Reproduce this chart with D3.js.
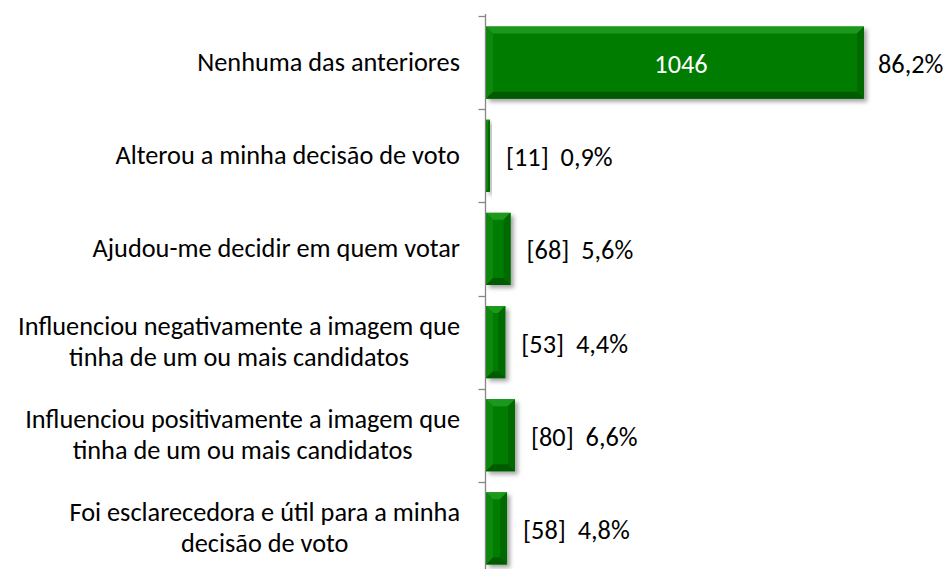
<!DOCTYPE html>
<html>
<head>
<meta charset="utf-8">
<script src="https://cdn.jsdelivr.net/npm/d3@7"></script>
<style>
  html, body { margin: 0; padding: 0; background: #fff; }
  svg { display: block; }
  text { font-family: "Carlito", "Open Sans", sans-serif; fill: #000; }
</style>
</head>
<body>
<svg id="chart" width="948" height="569"></svg>
<script>
// ---- data ----
const categories = [
  "Nenhuma das anteriores",
  "Alterou a minha decisão de voto",
  "Ajudou-me decidir em quem votar",
  "Influenciou negativamente a imagem que\ntinha de um ou mais candidatos",
  "Influenciou positivamente a imagem que\ntinha de um ou mais candidatos",
  "Foi esclarecedora e útil para a minha\ndecisão de voto"
];
const counts = [1046, 11, 68, 53, 80, 58];
const percents = [86.2, 0.9, 5.6, 4.4, 6.6, 4.8];
const percentLabels = ["86,2%", "0,9%", "5,6%", "4,4%", "6,6%", "4,8%"];

// ---- layout ----
const svg = d3.select("#chart");
const axisX = 486;
const fontSize = 26.3;

const x = d3.scaleLinear().domain([0, 100]).range([axisX, 924.5]);
const y = d3.scaleBand().domain(categories).range([16, 575]).paddingInner(0.226).paddingOuter(0.113);
const yOuter = d3.scaleBand().domain(categories).range([16, 575]).padding(0);

const defs = svg.append("defs");
const f = defs.append("filter").attr("id", "shadow").attr("x", "-20%").attr("y", "-20%").attr("width", "160%").attr("height", "160%");
f.append("feDropShadow").attr("dx", 3).attr("dy", 3).attr("stdDeviation", 2.2)
  .attr("flood-color", "#000").attr("flood-opacity", 0.35);

// axis
const axis = d3.axisLeft(yOuter).tickSize(7).tickFormat("");
const axisG = svg.append("g").attr("transform", `translate(${axisX - 0.5},0)`).call(axis);
axisG.select(".domain").attr("stroke", "#868686").attr("stroke-width", 1.3).attr("d", "M0,14V575");
axisG.selectAll(".tick").remove();
const bounds = categories.map(c => yOuter(c)).concat([575]);
axisG.selectAll("line.b").data(bounds).join("line").attr("class", "b")
  .attr("x1", -7).attr("x2", 0).attr("y1", d => Math.round(d) + 0.5).attr("y2", d => Math.round(d) + 0.5)
  .attr("stroke", "#868686").attr("stroke-width", 1.3);

// bars
const bars = svg.append("g").selectAll("g.bar").data(categories).join("g").attr("class", "bar");
bars.each(function(c, i) {
  const g = d3.select(this);
  const x0 = x(0), x1 = x(percents[i]);
  const y0 = y(c), y1 = y(c) + y.bandwidth();
  const b = Math.min(7, (x1 - x0) / 2, (y1 - y0) / 2);
  const grp = g.append("g").attr("filter", "url(#shadow)");
  grp.append("rect").attr("x", x0).attr("y", y0).attr("width", x1 - x0).attr("height", y1 - y0).attr("fill", "#027c02");
  const poly = (pts, fill) => grp.append("polygon").attr("points", pts.map(p => p.join(",")).join(" ")).attr("fill", fill);
  poly([[x0, y0], [x1, y0], [x1 - b, y0 + b], [x0 + b, y0 + b]], "#1f981f");
  poly([[x0, y0], [x0 + b, y0 + b], [x0 + b, y1 - b], [x0, y1]], "#0b880b");
  poly([[x1, y0], [x1, y1], [x1 - b, y1 - b], [x1 - b, y0 + b]], "#016a01");
  poly([[x0, y1], [x0 + b, y1 - b], [x1 - b, y1 - b], [x1, y1]], "#015a01");

  if (i === 0) {
    g.append("text").attr("x", (x0 + x1) / 2 + 6).attr("y", (y0 + y1) / 2 + 10.5)
      .attr("text-anchor", "middle").attr("font-size", fontSize).style("fill", "#fff").text(counts[i]);
    g.append("text").attr("x", x1 + 14).attr("y", (y0 + y1) / 2 + 10.5)
      .attr("font-size", fontSize).text(percentLabels[i]);
  } else {
    g.append("text").attr("x", x1 + 16).attr("y", (y0 + y1) / 2 + 10.5)
      .attr("font-size", fontSize).attr("xml:space", "preserve").style("white-space", "pre")
      .text(`[${counts[i]}]  ${percentLabels[i]}`);
  }
});

// category labels
const labelRight = 460;
const lineH = 31;
categories.forEach((c) => {
  const lines = c.split("\n");
  const cy = yOuter(c) + yOuter.bandwidth() / 2;
  const t = svg.append("text").attr("font-size", fontSize).attr("text-anchor", "middle");
  lines.forEach((ln, k) => {
    t.append("tspan").attr("y", cy + 8.5 + (k - (lines.length - 1) / 2) * lineH).text(ln);
  });
  let w = 0;
  t.selectAll("tspan").each(function() { w = Math.max(w, this.getComputedTextLength()); });
  t.selectAll("tspan").attr("x", labelRight - w / 2);
});
</script>
</body>
</html>
